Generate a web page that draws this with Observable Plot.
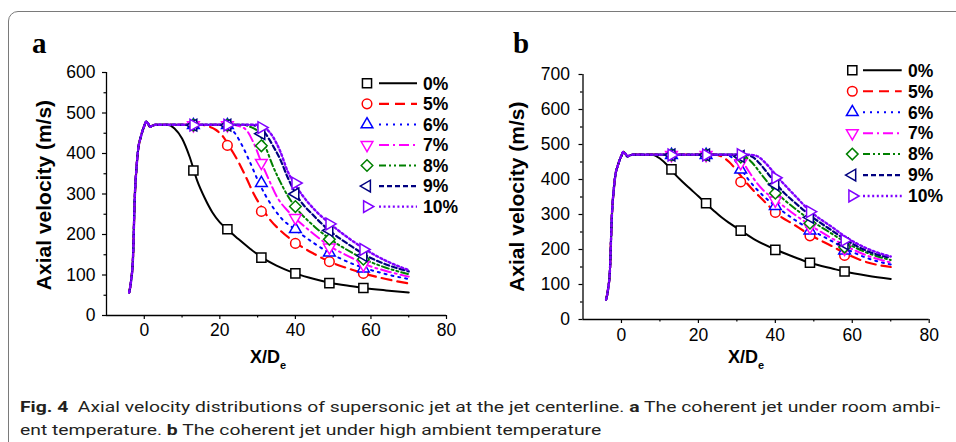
<!DOCTYPE html>
<html><head><meta charset="utf-8">
<script src="https://cdn.jsdelivr.net/npm/d3@7"></script>
<script src="https://cdn.jsdelivr.net/npm/@observablehq/plot@0.6"></script>
<style>
html,body{margin:0;padding:0;background:#fff;width:956px;height:442px;overflow:hidden;position:relative;}
#frame{position:absolute;left:8px;top:11px;width:1100px;height:600px;border:1.3px solid #7a7a7a;border-top-left-radius:10px;box-sizing:border-box;}
#pa{position:absolute;left:0;top:0;width:480px;height:380px;}
#pb{position:absolute;left:480px;top:0;width:476px;height:380px;}
#cap{position:absolute;left:20px;top:396px;font-family:Roboto,"Open Sans",sans-serif;font-size:14.3px;line-height:22.5px;color:#231f20;transform-origin:0 0;white-space:nowrap;}
#cap div{display:inline-block;}
</style></head><body>
<div id="frame"></div>
<div id="pa"></div><div id="pb"></div>
<div id="cap"><div id="l1"><b>Fig. 4</b>&nbsp; Axial velocity distributions of supersonic jet at the jet centerline. <b>a</b> The coherent jet under room ambi-</div><br><div>ent temperature. <b>b</b> The coherent jet under high ambient temperature</div></div>
<script>
// ---------- data ----------
const series = ["0%","5%","6%","7%","8%","9%","10%"];
const xMajor = [0,20,40,60,80];
const xMinor = [10,30,50,70];
const yMajorA = [0,100,200,300,400,500,600];
const yMinorA = [50,150,250,350,450,550];
const yMajorB = [0,100,200,300,400,500,600,700];
const yMinorB = [50,150,250,350,450,550,650];

// common nozzle-exit rise (both panels)
const riseX = [-4,-3.5,-3,-2.5,-2,-1.5,-1,-0.5,0,0.5,1,1.5,2,3];
const riseV = [57,85,140,295,372,418,438,455,468,479,474,466,468,471];

// panel a lines (continuation after the rise)
const aLineX = [
  [6,8,10,12,14,16,18,20,22,25,28,31,35,40,45,49,55,58,64,70],
  [15,17,19,21,23,25,27,29,31,33,36,40,45,49,55,58,64,70],
  [20,22,24,26,28,30,32,34,36,40,45,49,55,58,64,70],
  [23,25,27,29,31,33,35,38,40,45,49,55,58,64,70],
  [26,28,30,32,34,36,38,40,45,49,55,58,64,70],
  [28,30,32,34,36,38,40,45,49,55,58,64,70],
  [30,32,34,36,38,40,42,45,49,55,58,64,70]
];
const aLineV = [
  [471,462,437,392,333,290,255,230,213,188,165,144,123,104,90,81,72,68,62,57],
  [471,467,458,440,410,378,340,300,268,240,210,180,152,133,113,104,90,79],
  [471,466,450,418,378,335,298,268,243,212,178,155,128,118,102,90],
  [471,468,458,425,378,335,295,258,240,200,172,142,128,110,96],
  [471,466,455,418,370,330,295,268,220,190,155,140,118,102],
  [471,466,450,420,385,340,302,245,210,170,152,126,109],
  [471,463,442,405,355,322,295,262,228,185,166,135,112]
];
// panel b lines
const bLineX = [
  [8,10,12,14,16,18,20,22,24,26,28,31,35,40,45,49,55,58,64,70],
  [24,26,28,30,32,34,36,38,40,45,49,55,58,64,70],
  [27,29,31,33,35,37,40,45,49,55,58,64,70],
  [29,31,33,35,37,40,45,49,55,58,64,70],
  [30,32,34,36,38,40,42,45,49,55,58,64,70],
  [32,34,36,38,40,42,45,49,55,58,64,70],
  [33,35,37,39,41,43,45,49,55,58,64,70]
];
const bLineV = [
  [471,460,440,414,392,372,352,331,311,292,276,254,226,200,178,162,145,137,125,116],
  [471,466,450,425,397,372,350,328,306,270,242,208,190,163,150],
  [471,460,432,400,374,352,325,285,258,222,204,175,157],
  [471,458,425,393,368,342,300,270,230,212,182,163],
  [471,466,448,420,392,365,345,318,285,243,222,190,170],
  [471,465,445,418,390,365,335,298,252,230,195,176],
  [471,468,452,428,402,378,355,310,262,238,202,180]
];
// symbols (markers)
const markX = [13,22,31,40,49,58];
const aMarkV = [
  [358,213,143,104,80,68],
  [470,420,257,178,133,104],
  [470,470,327,213,155,116],
  [470,470,377,241,168,125],
  [470,470,419,269,188,139],
  [470,470,449,300,210,148],
  [470,470,464,327,226,163]
];
const bMarkV = [
  [429,332,254,199,162,137],
  [470,470,393,306,239,183],
  [470,470,428,324,254,197],
  [470,470,447,340,264,202],
  [470,470,464,361,275,207],
  [470,470,466,385,292,216],
  [470,470,471,405,308,226]
];

// ---------- styles ----------
const colors = ["#000000","#ff0000","#0000ff","#ff00ff","#008000","#000080","#8000ff"];
const dashes = [null,"10,6","2,5","10,4,2,4","7,3,2,3,2,3","5,3","2,2.6"];
const widths = [2,2.2,2,2,2,2.2,2.4];
function tri(deg){
  const a = deg*Math.PI/180, c = Math.cos(a), s0 = Math.sin(a);
  return {draw(ctx, size){
    const s = Math.sqrt(size)*0.6824, t = s/2, u = s*Math.sqrt(3)/2;
    const p = [[0,-s],[u,t],[-u,t]].map(([x,y]) => [x*c - y*s0, x*s0 + y*c]);
    ctx.moveTo(p[0][0],p[0][1]); ctx.lineTo(p[1][0],p[1][1]); ctx.lineTo(p[2][0],p[2][1]); ctx.closePath();
  }};
}
const symTypes = [d3.symbolSquare2, d3.symbolCircle, tri(0), tri(180), d3.symbolDiamond2, tri(-90), tri(90)];
const symR = [5.8,4.8,5.6,5.6,5.2,5.6,5.6];
const FONT = "'Liberation Sans', Arial, sans-serif";

function panel(o){
  const marks = [];
  marks.push(Plot.axisX(xMajor,{tickSize:4,tickPadding:o.xPad,fontSize:17.5,label:null,strokeWidth:1.2}));
  marks.push(Plot.axisX(xMinor,{tickSize:2.5,tickFormat:()=>"",label:null,strokeWidth:1.2}));
  marks.push(Plot.axisY(o.yMajor,{tickSize:4,tickPadding:o.yPad,fontSize:17.5,label:null,strokeWidth:1.2}));
  marks.push(Plot.axisY(o.yMinor,{tickSize:2.5,tickFormat:()=>"",label:null,strokeWidth:1.2}));
  marks.push(Plot.ruleY([0],{stroke:"#000",strokeWidth:1.3}));
  marks.push(Plot.ruleX([-10],{stroke:"#000",strokeWidth:1.3}));
  series.forEach((s,i)=>{
    const xs = riseX.concat(o.lineX[i]);
    const vs = riseV.concat(o.lineV[i]);
    const d = xs.map((x,j)=>({x, v: vs[j]}));
    marks.push(Plot.line(d,{x:"x",y:"v",stroke:colors[i],strokeWidth:widths[i],strokeDasharray:dashes[i]||undefined,curve:"monotone-x"}));
  });
  series.forEach((s,i)=>{
    const d = markX.map((x,j)=>({x, v:o.markV[i][j]}));
    marks.push(Plot.dot(d,{x:"x",y:"v",symbol:symTypes[i],r:symR[i],stroke:colors[i],fill:"white",strokeWidth:1.5}));
  });
  const svg = Plot.plot({
    width:o.width, height:380,
    marginLeft:o.ml, marginRight:o.mr, marginTop:o.mt, marginBottom:o.mb,
    x:{domain:[-10,80]}, y:{domain:o.yDomain},
    style:{fontFamily:FONT, color:"#000", background:"transparent", overflow:"visible"},
    marks
  });
  const g = d3.select(svg);
  // panel letter
  g.append("text").attr("x",o.letterX).attr("y",53).attr("text-anchor","start")
    .attr("font-family","'Liberation Serif','Times New Roman',serif")
    .attr("font-weight","bold").attr("font-size",29).attr("fill","#000").text(o.letter);
  // y title
  g.append("text").attr("transform",`translate(${o.ytX},${o.ytY}) rotate(-90)`).attr("text-anchor","middle")
    .attr("dominant-baseline","central").attr("font-family",FONT).attr("font-weight","bold").attr("font-size",21)
    .attr("fill","#000").text("Axial velocity (m/s)");
  // x title
  const xt = g.append("text").attr("x",o.xtX).attr("y",363).attr("text-anchor","start")
    .attr("font-family",FONT).attr("font-weight","bold").attr("font-size",18).attr("fill","#000");
  xt.append("tspan").text("X/D");
  xt.append("tspan").attr("font-size",11).attr("dy",6).text("e");
  // legend
  const lg = g.append("g").attr("text-anchor","start");
  series.forEach((s,i)=>{
    const y = o.lgY0 + i*o.lgDy;
    lg.append("path").attr("transform",`translate(${o.lgM},${y})`)
      .attr("d", d3.symbol(symTypes[i], Math.PI*symR[i]*symR[i])())
      .attr("fill","white").attr("stroke",colors[i]).attr("stroke-width",1.5);
    lg.append("line").attr("x1",o.lgL1).attr("x2",o.lgL2).attr("y1",y).attr("y2",y)
      .attr("stroke",colors[i]).attr("stroke-width",widths[i]).attr("stroke-dasharray",dashes[i]);
    lg.append("text").attr("x",o.lgT).attr("y",y).attr("dy","0.36em").attr("text-anchor","start")
      .attr("font-family",FONT).attr("font-weight","bold").attr("font-size",17.5).attr("fill","#000").text(s);
  });
  return svg;
}

document.getElementById("pa").appendChild(panel({
  width:480, ml:106, mr:34, mt:72, mb:65, yDomain:[0,600], yMajor:yMajorA, yMinor:yMinorA,
  xPad:4, yPad:7, lineX:aLineX, lineV:aLineV, markV:aMarkV,
  letter:"a", letterX:32, ytX:43, ytY:195, xtX:250,
  lgM:367, lgL1:379, lgL2:417, lgT:423, lgY0:83.3, lgDy:20.55
}));
document.getElementById("pb").appendChild(panel({
  width:476, ml:102.5, mr:27.3, mt:74, mb:61, yDomain:[0,700], yMajor:yMajorB, yMinor:yMinorB,
  xPad:5, yPad:9, lineX:bLineX, lineV:bLineV, markV:bMarkV,
  letter:"b", letterX:33, ytX:36, ytY:196.7, xtX:248,
  lgM:372.3, lgL1:383, lgL2:421.7, lgT:428, lgY0:70.3, lgDy:20.95
}));

// stretch caption horizontally to the reference line width
const l1 = document.getElementById("l1");
const w = l1.getBoundingClientRect().width;
document.getElementById("cap").style.transform = `scale(${920/w},1)`;
</script>
</body></html>
